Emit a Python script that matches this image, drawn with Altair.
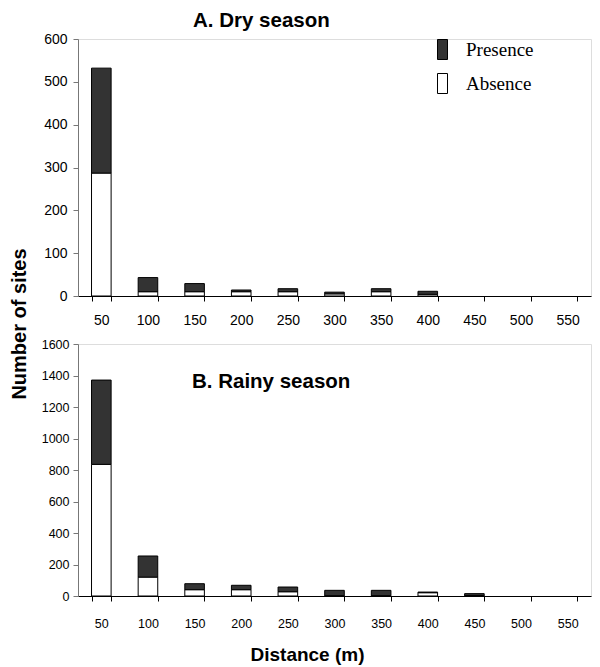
import altair as alt
import pandas as pd

distances = [50, 100, 150, 200, 250, 300, 350, 400, 450, 500, 550]
dry_absence = [287, 10, 10, 10, 10, 5, 10, 4, 0, 0, 0]
dry_presence = [245, 33, 19, 4, 7, 4, 7, 7, 0, 0, 0]
rainy_absence = [836, 120, 40, 40, 27, 2, 2, 21, 3, 0, 0]
rainy_presence = [535, 134, 38, 28, 30, 34, 34, 4, 12, 0, 0]
status = ["Presence", "Absence"]


def make_df(absence, presence):
    rows = []
    for d, a, p in zip(distances, absence, presence):
        rows.append({"dist": d, "status": "Absence", "n": a, "ord": 0})
        rows.append({"dist": d, "status": "Presence", "n": p, "ord": 1})
    return pd.DataFrame(rows)


dry = make_df(dry_absence, dry_presence)
rainy = make_df(rainy_absence, rainy_presence)

FONT = "Liberation Sans"
WIDTH = 513

color_scale = alt.Scale(domain=status, range=["#333333", "#ffffff"])
x_scale = alt.Scale(domain=distances, paddingInner=0.58, paddingOuter=0.29)


def x_axis(title, label_size, label_padding, **kw):
    return alt.Axis(title=title, labelAngle=0, tickBand="extent", domainColor="black",
                    tickColor="black", tickSize=5, labelFont=FONT, labelFontSize=label_size,
                    labelColor="black", labelPadding=label_padding, grid=False, **kw)


def title_text(text, x, y):
    return alt.Chart(alt.Data(values=[{"t": text}])).mark_text(
        align="left", baseline="alphabetic", font=FONT, fontSize=20.5, fontWeight="bold",
        color="black"
    ).encode(x=alt.value(x), y=alt.value(y), text="t:N")


top_bars = alt.Chart(dry).transform_filter("datum.n > 0").mark_bar(
    stroke="black", strokeWidth=1
).encode(
    x=alt.X("dist:O", scale=x_scale, axis=x_axis(None, 14, 12)),
    y=alt.Y("n:Q", stack="zero",
            scale=alt.Scale(domain=[0, 600], nice=False),
            axis=alt.Axis(values=list(range(0, 601, 100)), format="d", grid=False,
                          domainColor="#777777", tickColor="#777777", tickSize=5,
                          labelPadding=6, labelFont=FONT, labelFontSize=14, labelColor="black",
                          title="Number of sites", titleFont=FONT, titleFontSize=20,
                          titleFontWeight="bold", titleX=-59, titleY=284.5, titleAngle=270,
                          titleAlign="center", titleBaseline="middle", titleColor="black")),
    color=alt.Color("status:N", scale=color_scale, sort=status,
                    legend=alt.Legend(title=None, orient="none", legendX=354, legendY=0,
                                      padding=0, symbolType="M-0.5,-1H0.5V1H-0.5Z",
                                      symbolSize=400, symbolStrokeColor="black",
                                      symbolStrokeWidth=1, labelFont="Liberation Serif",
                                      labelFontSize=19, labelColor="black", labelOffset=13,
                                      rowPadding=9)),
    order=alt.Order("ord:Q"),
)

top = alt.layer(top_bars, title_text("A. Dry season", 115, -12)).properties(
    width=WIDTH, height=257
)

bottom_bars = alt.Chart(rainy).transform_filter("datum.n > 0").mark_bar(
    stroke="black", strokeWidth=1
).encode(
    x=alt.X("dist:O", scale=x_scale,
            axis=x_axis("Distance (m)", 12.5, 16, titleFont=FONT, titleFontSize=19,
                        titleFontWeight="bold", titleX=229, titleY=64, titleAlign="center",
                        titleBaseline="alphabetic", titleColor="black")),
    y=alt.Y("n:Q", stack="zero",
            scale=alt.Scale(domain=[0, 1600], nice=False),
            axis=alt.Axis(values=list(range(0, 1601, 200)), format="d", grid=False,
                          domainColor="#777777", tickColor="#777777", tickSize=5,
                          labelPadding=4, labelFont=FONT, labelFontSize=12.5,
                          labelColor="black", title=None)),
    color=alt.Color("status:N", scale=color_scale, sort=status, legend=None),
    order=alt.Order("ord:Q"),
)

bottom = alt.layer(bottom_bars, title_text("B. Rainy season", 114, 44)).properties(
    width=WIDTH, height=252
)

chart = alt.vconcat(top, bottom, spacing=48, bounds="flush").resolve_legend(
    color="independent"
).resolve_scale(color="independent").properties(
    padding={"left": 0, "top": 2, "right": 0, "bottom": 0}
).configure_view(stroke=None).configure(font=FONT)

chart.save("out.html", embed_options={"renderer": "svg", "actions": False})
